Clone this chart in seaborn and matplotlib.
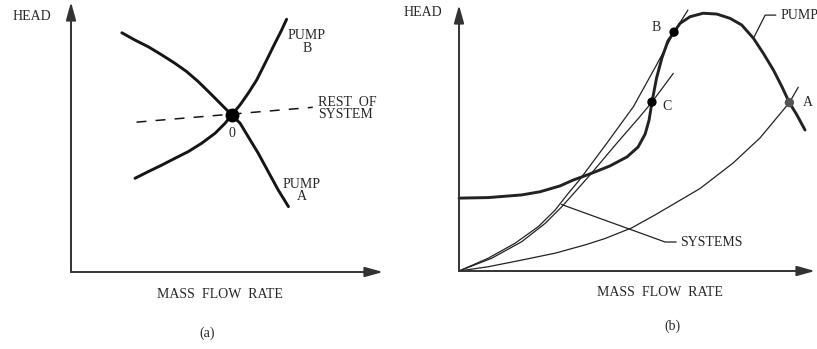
import numpy as np
import pandas as pd
import matplotlib.pyplot as plt
import seaborn as sns

# Panel (a): two pumps and the rest of the system (arbitrary units 0-10)
pump_a_x = [1.63, 2.05, 2.48, 2.91, 3.33, 3.71, 4.08, 4.46, 4.83, 5.15,
            5.42, 5.68, 6.00, 6.32, 6.64, 6.97]
pump_a_y = [8.86, 8.59, 8.34, 8.04, 7.73, 7.42, 7.05, 6.62, 6.19, 5.82,
            5.51, 5.01, 4.40, 3.72, 3.04, 2.42]
pump_b_x = [2.05, 2.48, 2.91, 3.33, 3.76, 4.19, 4.62, 4.94, 5.15, 5.42,
            5.68, 5.95, 6.22, 6.48, 6.75, 6.91]
pump_b_y = [3.47, 3.72, 3.96, 4.21, 4.46, 4.77, 5.14, 5.51, 5.82, 6.19,
            6.62, 7.11, 7.73, 8.34, 8.96, 9.36]
rest_x = [2.10, 7.75]
rest_y = [5.55, 6.10]
point_0 = (5.15, 5.82)

# Panel (b): pump curve and three system curves
pump_x = [0.00, 0.82, 1.76, 2.28, 2.84, 3.21, 3.68, 4.24, 4.72, 5.03, 5.23,
          5.34, 5.42, 5.55, 5.70, 5.87, 6.04, 6.21, 6.49, 6.86, 7.24, 7.61,
          7.94, 8.27, 8.55, 8.83, 9.07, 9.28, 9.49, 9.72]
pump_y = [2.74, 2.76, 2.86, 2.98, 3.20, 3.42, 3.65, 3.95, 4.29, 4.66, 5.15,
          5.68, 6.35, 7.26, 8.01, 8.65, 8.98, 9.31, 9.56, 9.69, 9.66, 9.50,
          9.25, 8.75, 8.18, 7.56, 6.93, 6.33, 5.87, 5.30]
sys_steep_x = [0, 0.82, 1.57, 2.23, 2.70, 3.07, 3.40, 4.15, 4.90, 5.55, 6.04, 6.43]
sys_steep_y = [0, 0.48, 1.04, 1.67, 2.29, 2.92, 3.45, 4.80, 6.18, 7.75, 8.98, 9.81]
sys_mid_x = [0, 0.92, 1.76, 2.42, 2.89, 3.31, 3.68, 4.43, 5.08, 5.42, 6.02]
sys_mid_y = [0, 0.48, 1.10, 1.79, 2.42, 3.05, 3.61, 4.80, 5.80, 6.35, 7.43]
sys_flat_x = [0, 0.82, 1.76, 2.70, 3.54, 4.10, 4.85, 5.51, 6.77, 7.70, 8.46,
              9.02, 9.28, 9.53]
sys_flat_y = [0, 0.16, 0.41, 0.67, 0.98, 1.22, 1.62, 2.11, 3.10, 4.06, 5.01,
              5.91, 6.33, 6.91]
points_b = {"B": (6.04, 8.98), "C": (5.42, 6.35), "A": (9.28, 6.33)}

sns.set_theme(style="white")
plt.rcParams['font.family'] = ['Liberation Serif', 'DejaVu Serif']

ink = "#151515"
fig = plt.figure(figsize=(8.17, 3.49), dpi=100)
ax1 = fig.add_axes([71/817, 77/349, 312/817, 270/349])
ax2 = fig.add_axes([459/817, 78/349, 356/817, 266/349])

for ax in (ax1, ax2):
    ax.set_xlim(0, 10)
    ax.set_ylim(0, 10)
    ax.set_axis_off()
    for tip in [(1, 0), (0, 1)]:
        ax.annotate("", xy=tip, xytext=(0, 0), xycoords="axes fraction",
                    arrowprops=dict(arrowstyle="-|>,head_length=0.9,head_width=0.25",
                                    color="#333333", lw=1.4, shrinkA=0, shrinkB=0),
                    annotation_clip=False)

# (a)
sns.lineplot(x=pump_a_x, y=pump_a_y, sort=False, estimator=None, ax=ax1,
             color=ink, lw=2.1, clip_on=False)
sns.lineplot(x=pump_b_x, y=pump_b_y, sort=False, estimator=None, ax=ax1,
             color=ink, lw=2.1, clip_on=False)
sns.lineplot(x=rest_x, y=rest_y, sort=False, estimator=None, ax=ax1,
             color=ink, lw=1.1, linestyle=(0, (6.5, 6)), clip_on=False)
ax1.plot(*point_0, "o", color="black", ms=9, zorder=5)
ax1.text(point_0[0], point_0[1] - 0.68, "0", ha="center", va="center", fontsize=10)
ax1.text(7.92, 6.05, "REST  OF\nSYSTEM", ha="left", va="center", fontsize=10, linespacing=0.95)
ax1.text(7.56, 8.52, "PUMP\nB", ha="center", va="center", fontsize=10, linespacing=0.95)
ax1.text(7.40, 3.02, "PUMP\nA", ha="center", va="center", fontsize=10, linespacing=0.95)

# (b)
sns.lineplot(x=pump_x, y=pump_y, sort=False, estimator=None, ax=ax2,
             color="#222222", lw=2.1, clip_on=False)
for sx, sy in [(sys_steep_x, sys_steep_y), (sys_mid_x, sys_mid_y), (sys_flat_x, sys_flat_y)]:
    sns.lineplot(x=sx, y=sy, sort=False, estimator=None, ax=ax2,
                 color="#222222", lw=0.9, clip_on=False)
pts = pd.DataFrame([(k, v[0], v[1]) for k, v in points_b.items()], columns=["name", "x", "y"])
sns.scatterplot(data=pts, x="x", y="y", ax=ax2, color="black", s=45,
                linewidth=0, zorder=5, clip_on=False)
ax2.collections[-1].set_facecolor(["black", "black", "#555555"])
ax2.text(5.67, 9.17, "B", ha="right", va="center", fontsize=10)
ax2.text(5.70, 6.20, "C", ha="left", va="center", fontsize=10)
ax2.text(9.66, 6.32, "A", ha="left", va="center", fontsize=10)

# leader lines
ax2.plot([8.29, 8.60, 8.90], [8.80, 9.62, 9.62], color="#222222", lw=0.9, clip_on=False)
ax2.text(9.02, 9.62, "PUMP", ha="left", va="center", fontsize=10, clip_on=False)
ax2.plot([2.88, 5.79, 6.10], [2.50, 1.09, 1.09], color="#222222", lw=0.9, clip_on=False)
ax2.text(6.21, 1.09, "SYSTEMS", ha="left", va="center", fontsize=10)

# axis titles and panel labels
fig.text(32/817, 1 - 17/349, "HEAD", ha="center", va="center", fontsize=10)
fig.text(220/817, 1 - 295/349, "MASS  FLOW  RATE", ha="center", va="center", fontsize=10)
fig.text(207/817, 1 - 333/349, "(a)", ha="center", va="center", fontsize=10)
fig.text(423/817, 1 - 12/349, "HEAD", ha="center", va="center", fontsize=10)
fig.text(660/817, 1 - 293/349, "MASS  FLOW  RATE", ha="center", va="center", fontsize=10)
fig.text(672/817, 1 - 326/349, "(b)", ha="center", va="center", fontsize=10)

fig.savefig("out.png", dpi=100, facecolor="white")
